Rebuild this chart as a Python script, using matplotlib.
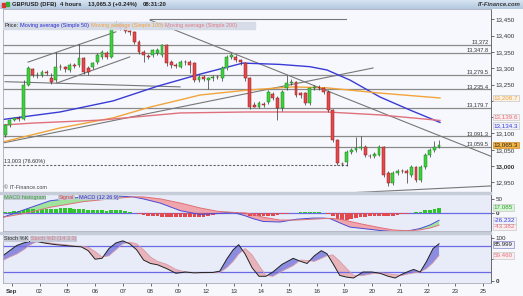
import matplotlib
matplotlib.use('Agg')
import matplotlib.pyplot as plt
import matplotlib.transforms as mtransforms
from matplotlib.patches import Rectangle
import numpy as np

plt.rcParams['font.family'] = ['Liberation Sans', 'DejaVu Sans']

W, H = 523, 296

# 4 hour candles, index 0 = Sep 1 00:00, first candle is Aug 31 16:00 (index -2)
first_k = -2
opens = [13095, 13126, 13141, 13147, 13145, 13249, 13298, 13279,
         13279, 13290, 13269, 13264, 13305, 13303,
         13295, 13310, 13310, 13331, 13300, 13305,
         13320, 13336, 13346, 13336, 13428, 13438,
         13423, 13414, 13412, 13382, 13351, 13338,
         13341, 13346, 13341, 13371, 13320, 13310,
         13305, 13320, 13320, 13315, 13264, 13272,
         13264, 13269, 13274, 13269, 13300, 13336,
         13336, 13325, 13315, 13269, 13187, 13182,
         13190, 13198, 13222, 13208, 13177, 13239,
         13254, 13259, 13223, 13223, 13193, 13239,
         13242, 13239, 13228, 13172, 13080, 13007,
         13013, 13043, 13049, 13055, 13059, 13032,
         13030, 13034, 13059, 12979, 12948, 12979,
         12986, 12986, 12973, 12997, 12957, 12997,
         13034, 13049, 13059]
closes = [13126, 13141, 13147, 13145, 13249, 13300, 13279, 13281,
          13290, 13285, 13259, 13305, 13303, 13298,
          13310, 13308, 13331, 13290, 13290, 13315,
          13341, 13351, 13336, 13423, 13438, 13423,
          13415, 13410, 13382, 13351, 13341, 13336,
          13356, 13356, 13371, 13315, 13310, 13308,
          13320, 13318, 13310, 13264, 13274, 13268,
          13269, 13272, 13273, 13300, 13336, 13341,
          13325, 13318, 13269, 13182, 13182, 13193,
          13187, 13228, 13210, 13177, 13228, 13254,
          13259, 13218, 13218, 13193, 13239, 13244,
          13239, 13228, 13172, 13080, 13009, 13005,
          13043, 13049, 13055, 13059, 13034, 13030,
          13036, 13059, 12973, 12948, 12979, 12986,
          12984, 12980, 12997, 12957, 12997, 13034,
          13049, 13059, 13065]
highs = [13130, 13146, 13152, 13153, 13264, 13308, 13302, 13290,
         13296, 13294, 13285, 13349, 13312, 13308,
         13316, 13316, 13374, 13335, 13306, 13320,
         13346, 13356, 13352, 13428, 13445, 13442,
         13428, 13418, 13415, 13386, 13355, 13344,
         13360, 13362, 13376, 13374, 13325, 13316,
         13326, 13326, 13324, 13318, 13280, 13278,
         13274, 13278, 13280, 13306, 13342, 13348,
         13342, 13330, 13320, 13272, 13196, 13200,
         13196, 13234, 13226, 13214, 13234, 13279,
         13266, 13262, 13228, 13228, 13244, 13250,
         13248, 13244, 13232, 13176, 13084, 13012,
         13048, 13054, 13089, 13092, 13064, 13038,
         13042, 13064, 13062, 12984, 12984, 12992,
         12992, 12990, 13002, 13000, 13002, 13040,
         13054, 13076, 13080]
lows = [13088, 13120, 13138, 13139, 13140, 13245, 13272, 13270,
        13274, 13278, 13252, 13258, 13296, 13290,
        13288, 13300, 13305, 13282, 13280, 13298,
        13314, 13330, 13330, 13332, 13420, 13418,
        13408, 13402, 13376, 13345, 13320, 13328,
        13336, 13340, 13336, 13308, 13302, 13300,
        13300, 13310, 13285, 13258, 13258, 13262,
        13236, 13262, 13266, 13262, 13296, 13330,
        13318, 13310, 13262, 13176, 13180, 13178,
        13180, 13192, 13204, 13141, 13170, 13234,
        13248, 13212, 13210, 13186, 13188, 13234,
        13232, 13222, 13166, 13074, 13003, 13000,
        13000, 13038, 13044, 13050, 13028, 13024,
        13024, 13030, 12968, 12940, 12942, 12974,
        12978, 12948, 12968, 12950, 12952, 12992,
        13028, 13044, 13055]

# moving averages (candle index, price)
sma50_k = [-2.45, 9.9, 21.4, 31, 40.2, 49.5, 57.5, 64, 67.7, 72.7, 79.2, 85.7, 92.2]
sma50 = [13143, 13166, 13200, 13245, 13282, 13316, 13312, 13305, 13295, 13264, 13212, 13172, 13134]
sma100_k = [-2.45, 9.9, 21.4, 29.4, 35.9, 40.2, 50.4, 60.4, 67.7, 79.2, 92.2]
sma100 = [13074, 13117, 13148, 13181, 13203, 13218, 13233, 13243, 13240, 13224, 13209]
sma200_k = [-2.45, 4.05, 18.6, 35.9, 50.4, 67.7, 79.2, 92.2]
sma200 = [13126, 13132, 13141, 13163, 13166, 13166, 13157, 13140]

# horizontal levels
levels = [13372, 13347.8, 13279.5, 13235.4, 13179.7, 13091.3, 13059.5]
level_labels = ['13,372', '13,347.8', '13,279.5', '13,235.4', '13,179.7', '13,091.3', '13,059.5']
fib_level = 13003

# trend lines (k0, p0, k1, p1)
trend_lines = [
    (2.97, 13319, 22.0, 13412),
    (9.25, 13255, 25.0, 13335),
    (29.4, 13448, 103.25, 13030),
    (-2.45, 13071, 77.7, 13301),
    (-2.0, 13259, 35.9, 13243),
    (72.7, 12918, 103.25, 12939),
    (29.4, 13450, 71.8, 13450),
]

# MACD (12 26 9)
macd_k = [-2.45, 2.75, 7.7, 14.9, 22.2, 25.7, 27.9, 31.6, 36, 40.2, 44, 47.4, 50, 51.7,
          53.9, 57.5, 61.2, 64.7, 66.9, 68.4, 70.5, 72.7, 75.5, 79.2, 82, 85.1, 87.9, 90.1, 92]
macd = [-15, 15, 43, 57, 60, 57, 50, 35, 8, -5, -2, 2, -10, -20,
        -30, -32, -22, -18, -18, -20, -35, -50, -55, -62, -66, -64, -55, -42, -26]
signal = [-15, 0, 20, 40, 52, 57, 57, 50, 35, 18, 6, 2, 0, -5,
          -15, -25, -25, -22, -20, -19, -22, -30, -40, -52, -60, -63, -60, -53, -43]
hist = [2, 4, 6, 8, 12, 14, 13, 12,
        13, 14, 13, 15, 16, 17,
        16, 15, 15, 13, 12, 12,
        10, 9, 8, 10, 11, 9,
        6, 3, 0, -4, -7, -9,
        -11, -12, -13, -14, -15, -15,
        -15, -14, -14, -15, -14, -13,
        -10, -7, -4, -1, 2, 3,
        2, 0, -4, -9, -12, -12,
        -11, -10, -9, -7, -5, -2,
        0, 1, 2, 3, 4, 3,
        3, 1, -4, -12, -20, -24,
        -24, -22, -19, -16, -14, -12,
        -11, -10, -11, -11, -9, -7,
        -5, -3, -1, 2, 5, 9,
        12, 15, 17]

# Stochastic (14 3 3)
stoch_k = [-2.5, -1, 0.5, 2, 3.5, 5, 7, 9, 11, 13, 14.5, 16, 17.5, 19, 20.5, 22, 23.5, 25,
           26.5, 28, 29.5, 31, 33, 35, 37, 39, 41, 43, 44.5, 46, 47.4, 48.6, 50, 51.5, 53,
           54.5, 56, 58, 60.4, 62, 63.4, 65, 66.5, 67.7, 69, 70.5, 72, 73.5, 75.5, 77.5,
           79.2, 81, 82.5, 84, 85.5, 86.5, 87.9, 89.3, 90.7, 92]
pct_k = [58, 70, 82, 88, 92, 91, 87, 84, 82, 80, 79, 70, 50, 52, 75, 88, 93, 86,
         72, 48, 40, 37, 28, 17, 20, 18, 19, 19, 22, 50, 72, 84, 62, 30, 10,
         10, 20, 38, 52, 45, 40, 58, 70, 63, 40, 12, 8, 6, 20, 20,
         17, 10, 6, 15, 22, 26, 20, 45, 75, 86]
pct_d = [47, 55, 62, 72, 84, 92, 89, 86, 84, 81, 80, 78, 68, 55, 58, 72, 86, 90,
         86, 72, 55, 45, 38, 26, 20, 19, 18, 19, 19, 30, 45, 62, 75, 60, 35,
         12, 10, 22, 35, 48, 47, 45, 52, 58, 60, 45, 28, 12, 12, 16,
         18, 16, 14, 12, 16, 18, 20, 28, 42, 59]

day_labels = ['Sep', '02', '05', '06', '07', '08', '09', '12', '13', '14', '15', '16',
              '19', '20', '21', '22', '23', '25']

XMIN, XMAX = -2.45, 103.25
FS = 4.2


def box(x0, y0, x1, y1):
    return [x0 / W, 1 - y1 / H, (x1 - x0) / W, (y1 - y0) / H]


fig = plt.figure(figsize=(W / 100, H / 100), dpi=100)
fig.patch.set_facecolor('#f7f8fb')

# title bar
bar = fig.add_axes(box(0, 0, W, 9))
bar.imshow(np.linspace(0, 1, 10).reshape(-1, 1), cmap=matplotlib.colors.LinearSegmentedColormap.from_list(
    'b', ['#d6e3f1', '#b4c9e0']), aspect='auto', extent=[0, 1, 0, 1])
bar.axis('off')
bar.add_patch(Rectangle((0.004, 0.2), 0.006, 0.45, color='#e03030', transform=bar.transAxes))
bar.add_patch(Rectangle((0.011, 0.35), 0.006, 0.45, color='#30b030', transform=bar.transAxes))
for xp, s in [(12, 'GBP/USD (DFB)'), (60, '4 hours'), (88, '13,065.3 (+0.24%)'), (143, '08:31:20')]:
    fig.text(xp / W, 1 - 4.8 / H, s, fontsize=FS, weight='bold', color='#222', va='center')
fig.text(521 / W, 1 - 4.8 / H, 'IT-Finance.com', fontsize=FS, weight='bold', style='italic',
         color='#333', va='center', ha='right')

# panels
ax = fig.add_axes(box(3, 9, 491, 191.5))
ax_m = fig.add_axes(box(3, 194, 491, 231))
ax_s = fig.add_axes(box(3, 234, 491, 283))

for a in (ax, ax_m, ax_s):
    a.set_xlim(XMIN, XMAX)
    a.yaxis.tick_right()
    a.tick_params(axis='y', labelsize=4.5, length=2, pad=1.5, colors='#333', width=0.5)
    for s in a.spines.values():
        s.set_color('#aab')
        s.set_linewidth(0.6)
    a.spines['right'].set_color('#555')

ax.set_facecolor('#f6f8fd')
ax_m.set_facecolor('#e8ecf8')
ax_s.set_facecolor('#e8ecf8')

fig.add_artist(Rectangle((0, 1 - 194 / H), 491 / W, 2.5 / H, transform=fig.transFigure, color='#c6ccd8'))
fig.add_artist(Rectangle((0, 1 - 234 / H), 491 / W, 2.5 / H, transform=fig.transFigure, color='#c6ccd8'))

# main chart
ax.set_ylim(12922, 13482)
ticks = [12950, 13000, 13050, 13100, 13150, 13200, 13250, 13300, 13350, 13400, 13450]
ax.set_yticks(ticks)
# 13,150 and 13,200 sit under the value tags
ax.set_yticklabels(['' if t in (13150, 13200) else '{:,}'.format(t) for t in ticks])
for lab in ax.get_yticklabels():
    if lab.get_text() == '13,000':
        lab.set_fontweight('bold')
ax.set_xticks([])

for lv, lb in zip(levels, level_labels):
    ax.axhline(lv, color='#8a8a8a', lw=0.9, zorder=1)
    ax.text(102.8, lv + 1.5, lb, fontsize=4.1, color='#333', ha='right', va='bottom', zorder=5)
ax.plot([XMIN, 72.5], [fib_level, fib_level], color='#666', lw=0.8, ls=(0, (2, 1.5)), zorder=1)
ax.text(-2.2, fib_level + 4, '13,003 (76.60%)', fontsize=4.0, color='#333', va='bottom')

for k0, p0, k1, p1 in trend_lines:
    ax.plot([k0, k1], [p0, p1], color='#777', lw=0.8, zorder=1)

ax.plot(sma50_k, sma50, color='#3a3ad6', lw=1.0, zorder=2)
ax.plot(sma100_k, sma100, color='#f2a43a', lw=1.0, zorder=2)
ax.plot(sma200_k, sma200, color='#e0707c', lw=1.0, zorder=2)

kk = np.arange(first_k, first_k + len(closes))
o = np.array(opens)
c = np.array(closes)
up = c >= o
ax.vlines(kk, lows, highs, color='#333', lw=0.5, zorder=3)
ax.bar(kk[up], (c - o)[up], bottom=o[up], width=0.62, color='#3dd23d', edgecolor='#1e7d1e', lw=0.35, zorder=4)
ax.bar(kk[~up], (c - o)[~up], bottom=o[~up], width=0.62, color='#e6484c', edgecolor='#8c1e1e', lw=0.35, zorder=4)

ax.text(-2.2, 12933, '\u00a9 IT-Finance.com', fontsize=3.9, color='#444', va='center')

# legend row
ax.add_patch(Rectangle((XMIN, 13421), 54.5, 21, color='#d4dae6', alpha=0.9, zorder=6))
for kx, s, col in [(-2.2, 'Price:', '#222'), (1.2, 'Moving average (Simple 50)', '#2a2ad0'),
                   (16.6, 'Moving average (Simple 100)', '#f0a040'),
                   (32.7, 'Moving average (Simple 200)', '#e07a86')]:
    ax.text(kx, 13432, s, fontsize=4.0, color=col, va='center', zorder=7)


def tag(a, y, s, fc, ec, tc):
    t = mtransforms.blended_transform_factory(a.transAxes, a.transData)
    a.text(1.006, y, s, transform=t, fontsize=4.5, color=tc, va='center', ha='left',
           clip_on=False, zorder=10,
           bbox=dict(boxstyle='square,pad=0.12', fc=fc, ec=ec, lw=0.5))


tag(ax, 13208.7, '13,208.7', '#fbf3e6', '#c8c8c8', '#f0a040')
tag(ax, 13150.6, '13,139.6', '#fbeef0', '#c8c8c8', '#e0707c')
tag(ax, 13124.5, '13,134.3', '#eef0fb', '#c8c8c8', '#3a3ad6')
tag(ax, 13065.3, '13,065.3', '#f6b445', '#d08a20', '#222')

# MACD panel
ax_m.set_ylim(-63.8, 67.2)
ax_m.set_yticks([0, 50])
ax_m.set_yticklabels(['0', '50'])
ax_m.get_yticklabels()[0].set_fontweight('bold')
ax_m.set_xticks([])
mk = np.array(macd_k)
mv = np.array(macd)
sv = np.array(signal)
ax_m.fill_between(mk, mv, sv, where=mv >= sv, interpolate=True, color='#9fe39f', lw=0)
ax_m.fill_between(mk, mv, sv, where=mv < sv, interpolate=True, color='#f0a6ac', lw=0)
hv = np.array(hist)
ax_m.bar(kk, hv, width=0.8, color=np.where(hv >= 0, '#2ec42e', '#e2484c'), lw=0, zorder=3)
ax_m.axhline(0, color='#6a6ae6', lw=0.9, zorder=2)
ax_m.plot(mk, mv, color='#4a4ad8', lw=0.7, zorder=4)
ax_m.plot(mk, sv, color='#e07078', lw=0.7, zorder=4)
lab_box = dict(boxstyle='square,pad=0.1', fc='#c5cad6', ec='none')
ax_m.text(-2.3, 56, 'MACD histogram', fontsize=4.0, color='#30a030', va='center', zorder=7, bbox=lab_box)
ax_m.text(9.6, 56, 'Signal', fontsize=4.0, color='#d84848', va='center', zorder=7, bbox=lab_box)
ax_m.text(14.0, 56, 'MACD (12 26 9)', fontsize=4.0, color='#2a2ad0', va='center', zorder=7, bbox=lab_box)
tag(ax_m, 20, '17.085', '#d8f5d8', '#c8c8c8', '#30a030')
tag(ax_m, -26, '-26.232', '#eef0fb', '#c8c8c8', '#3a3ad6')
tag(ax_m, -49, '-43.382', '#fbeef0', '#c8c8c8', '#e0707c')

# Stochastic panel
ax_s.set_ylim(-5.7, 109)
ax_s.set_yticks([0, 50, 100])
ax_s.set_yticklabels(['0', '', '100'])
ax_s.get_yticklabels()[0].set_fontweight('bold')
sk = np.array(stoch_k)
kv = np.array(pct_k)
dv = np.array(pct_d)
ax_s.fill_between(sk, kv, dv, where=kv >= dv, interpolate=True, color='#8c8ce0', lw=0)
ax_s.fill_between(sk, kv, dv, where=kv < dv, interpolate=True, color='#e8b4bc', lw=0)
ax_s.axhline(80, color='#6a6ae6', lw=0.9)
ax_s.axhline(20, color='#6a6ae6', lw=0.9)
ax_s.plot(sk, dv, color='#d89aa6', lw=0.6)
ax_s.plot(sk, kv, color='#222', lw=0.7)
ax_s.text(-2.3, 98, 'Stoch %K', fontsize=4.0, color='#333', va='center', zorder=7, bbox=lab_box)
ax_s.text(3.6, 98, 'Stoch %D (14 3 3)', fontsize=4.0, color='#e07a86', va='center', zorder=7, bbox=lab_box)
tag(ax_s, 84, '85.999', '#eef0fb', '#8888cc', '#222')
tag(ax_s, 58.6, '59.460', '#fbeef0', '#c8c8c8', '#e0707c')

ax_s.set_xticks([6 * d - 0.5 for d in range(len(day_labels))])
ax_s.set_xticklabels(day_labels)
ax_s.tick_params(axis='x', labelsize=4.5, length=2, pad=2.5, colors='#333', width=0.5)
ax_s.get_xticklabels()[0].set_fontweight('bold')

fig.savefig('out.png', dpi=100)
